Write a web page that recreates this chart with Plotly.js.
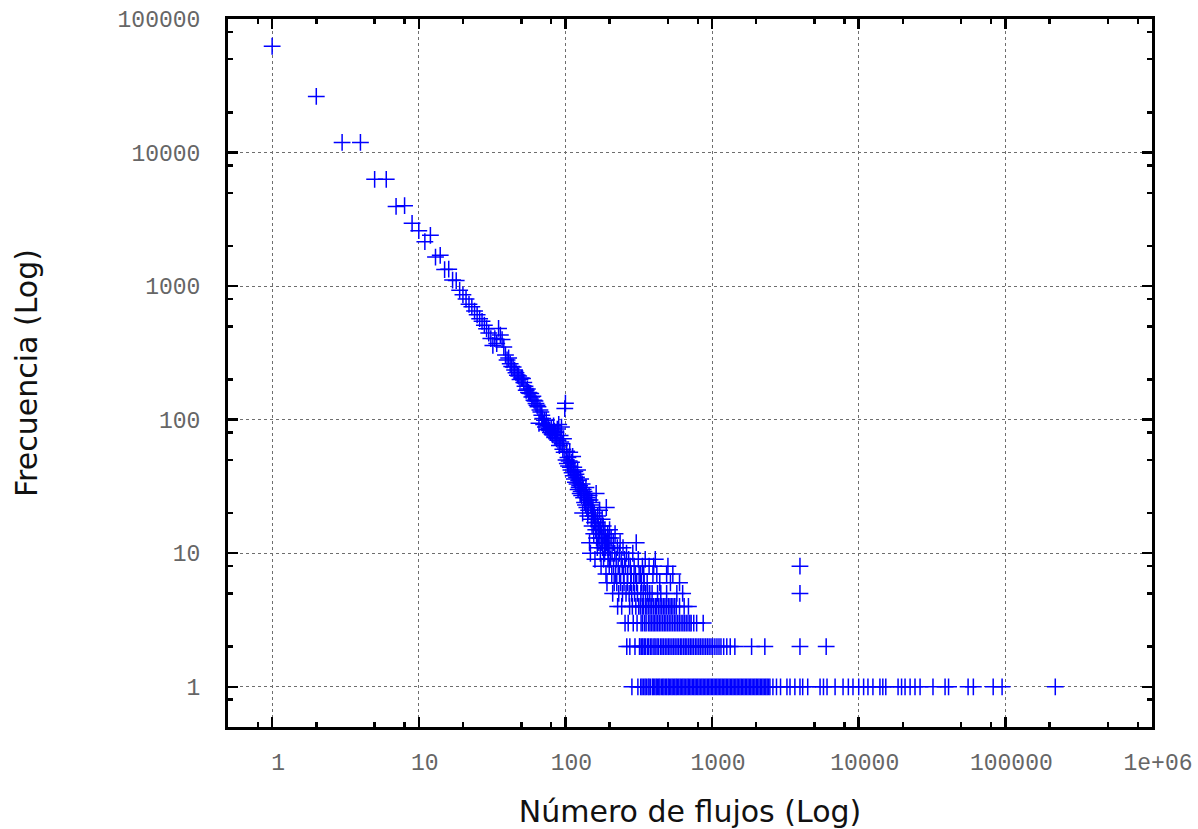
<!DOCTYPE html>
<html>
<head>
<meta charset="utf-8">
<script src="https://cdn.plot.ly/plotly-3.0.1.min.js"></script>
<style>html,body{margin:0;padding:0;background:#fff;}#chart{width:1198px;height:829px;}</style>
</head>
<body>
<div id="chart"></div>
<script>
// Number of flows 1..100 and their frequency
const diagFlows = [1,2,3,4,5,6,7,8,9,10,11,12,13,14,15,16,17,18,19,20,21,22,23,24,25,26,27,28,29,30,31,32,33,34,35,36,37,38,39,40,41,42,43,44,45,46,47,48,49,50,51,52,53,54,55,56,57,58,59,60,61,62,63,64,65,66,67,68,69,70,71,72,73,74,75,76,77,78,79,80,81,82,83,84,85,86,87,88,89,90,91,92,93,94,95,96,97,98,99,100];
const diagFreq = [62500,26300,11900,11900,6300,6300,3950,4000,2950,2600,
  2150,2400,1650,1700,1330,1340,1110,1100,930,860,
  800,730,700,650,610,570,545,510,480,445,
  405,360,405,372,482,430,398,350,305,280,
  290,262,250,248,235,225,215,212,200,205,
  203,190,178,166,170,160,158,157,148,150,
  140,138,132,128,125,94,118,114,108,102,
  92,99,88,99,84,90,86,83,80,86,
  78,77,90,82,74,80,72,85,70,92,
  64,76,68,88,66,60,72,57,121,133];

// Number of flows 101..320 (scattered region)
const midFlows = [101,102,103,104,105,106,107,108,109,110,111,112,113,114,115,116,117,118,119,120,
  121,122,123,124,125,126,127,128,129,130,131,132,133,134,135,136,137,138,139,140,
  141,142,143,144,145,146,147,148,149,150,151,152,153,154,155,156,157,158,159,160,
  161,162,163,164,165,166,167,168,169,170,171,172,173,174,175,176,177,178,179,180,
  181,182,183,184,185,186,187,188,189,190,191,192,193,194,195,196,197,198,199,200,
  201,203,205,207,208,210,212,213,215,217,218,220,222,224,226,227,229,231,233,234,
  236,238,240,242,244,245,247,249,251,253,255,257,259,261,262,264,266,268,270,272,
  274,275,277,279,281,283,284,286,288,290,292,294,296,298,300,302,304,306,308,310,
  312,314,316,318,320];
const midFreq = [50,58,47,52,45,49,57,44,42,48,40,53,38,44,36,41,34,39,37,33,
  42,30,35,31,32,28,36,29,27,33,20,30,26,29,24,27,23,31,28,22,
  26,19,25,21,27,12,25,10,23,18,24,16,21,22,19,14,20,17,9,18,
  15,28,13,17,11,19,14,16,12,15,21,13,10,16,8,14,12,18,11,13,
  16,9,14,12,10,15,11,13,7,22,12,6,11,14,9,12,10,13,8,15,
  11,9,13,7,10,5,12,8,6,10,14,7,9,6,11,4,8,5,10,7,
  12,6,9,4,8,5,11,7,6,9,3,8,5,10,2,6,7,3,9,5,
  4,2,8,6,7,5,1,4,10,3,6,8,5,2,7,4,12,6,3,5,
  1,9,4,7,2];

// Flow counts (above 320) seen with frequency 1..9
const freq1Flows = [326,333,341,349,356,366,372,380,392,398,407,416,424,433,441,452,461,470,481,490,
  502,511,523,534,545,557,569,580,593,606,619,632,645,659,674,688,703,718,734,750,
  766,782,799,816,834,852,870,889,908,928,948,968,989,1010,1032,1054,1077,1100,1124,1148,
  1173,1198,1224,1250,1277,1305,1333,1362,1391,1421,1452,1483,1515,1548,1581,1615,1650,1686,1722,1760,
  1798,1836,1876,1917,1958,2001,2044,2088,2133,2180,2227,2275,2324,2375,2426,2480,
  2600,2750,2930,3240,3400,3670,3975,4150,4490,5450,5750,6080,6900,7820,8500,9140,10000,10800,11560,12500,
  13950,14600,15300,18550,19600,20700,22400,24200,26200,32100,38800,41000,55700,60500,82600,95000,219000];
const freq2Flows = [322,331,337,345,352,363,370,381,389,401,409,421,430,444,455,466,479,492,505,517,
  532,546,560,576,590,607,622,640,656,673,692,710,729,748,770,789,812,833,856,880,
  905,930,955,983,1010,1045,1080,1115,1150,1200,1260,1330,1430,1860,2290,3975,6000];
const freq3Flows = [328,336,347,355,368,377,386,396,405,415,426,437,448,460,472,484,497,510,524,538,
  553,567,583,598,615,632,648,666,685,705,720,750,785,870];
const freq4Flows = [324,334,340,351,359,369,378,388,399,410,419,431,442,454,466,477,489,503,516,528,
  541,556,571,600,645,690];
const freq5Flows = [327,339,352,364,376,390,425,447,490,575,630,3975];
const freq6Flows = [330,344,361,440,520,600];
const freq7Flows = [325,342,395,420,490,540];
const freq8Flows = [335,372,400,500,3975];
const freq9Flows = [350,410];

// Axis ticks
const xTickVals = [1,10,100,1000,10000,100000,1000000];
const xTickText = ['1','10','100','1000','10000','100000','1e+06'];
const yTickVals = [1,10,100,1000,10000,100000];
const yTickText = ['1','10','100','1000','10000','100000'];
const xMinorVals = [0.8,2,5,8,20,50,80,200,500,800,2000,5000,8000,20000,50000,80000,200000,500000,800000];
const yMinorVals = [0.8,2,5,8,20,50,80,200,500,800,2000,5000,8000,20000,50000,80000];

const bandFlows = [freq1Flows,freq2Flows,freq3Flows,freq4Flows,freq5Flows,freq6Flows,freq7Flows,freq8Flows,freq9Flows];
let xs = diagFlows.concat(midFlows);
let ys = diagFreq.concat(midFreq);
bandFlows.forEach((arr, i) => {
  xs = xs.concat(arr);
  ys = ys.concat(arr.map(() => i + 1));
});

const trace = {
  x: xs, y: ys, type: 'scatter', mode: 'markers',
  marker: {symbol: 'cross-thin', size: 12, color: '#0000ff', line: {color: '#0000ff', width: 1.5}},
  hoverinfo: 'x+y'
};

const tickFont = {family: 'Liberation Mono, DejaVu Sans Mono, monospace', size: 23, color: '#666'};
const titleFont = {family: 'DejaVu Sans, sans-serif', size: 30, color: '#111'};

const axisCommon = {
  type: 'log', tickmode: 'array', ticks: 'inside', ticklen: 10, tickwidth: 2.5, tickcolor: '#000',
  showline: true, linewidth: 3, linecolor: '#000', mirror: 'ticks',
  showgrid: true, gridcolor: '#6e6e6e', griddash: 'dot', gridwidth: 1, zeroline: false,
  tickfont: tickFont
};

const layout = {
  width: 1198, height: 829,
  margin: {l: 228, r: 46, t: 19, b: 102},
  paper_bgcolor: '#fff', plot_bgcolor: '#fff',
  showlegend: false,
  xaxis: Object.assign({}, axisCommon, {
    range: [Math.log10(0.5), 6],
    tickvals: xTickVals, ticktext: xTickText,
    ticklabelstandoff: 12, ticklabelshift: 6,
    minor: {tickmode: 'array', tickvals: xMinorVals, ticks: 'inside', ticklen: 5, tickwidth: 2.5, tickcolor: '#000', showgrid: false},
    title: {text: 'Número de flujos (Log)', font: titleFont, standoff: 26}
  }),
  yaxis: Object.assign({}, axisCommon, {
    range: [Math.log10(0.5), 5],
    tickvals: yTickVals, ticktext: yTickText,
    ticklabelstandoff: 20,
    minor: {tickmode: 'array', tickvals: yMinorVals, ticks: 'inside', ticklen: 5, tickwidth: 2.5, tickcolor: '#000', showgrid: false},
    title: {text: 'Frecuencia (Log)', font: titleFont, standoff: 72}
  })
};

Plotly.newPlot('chart', [trace], layout, {displayModeBar: false, staticPlot: true});
</script>
</body>
</html>
